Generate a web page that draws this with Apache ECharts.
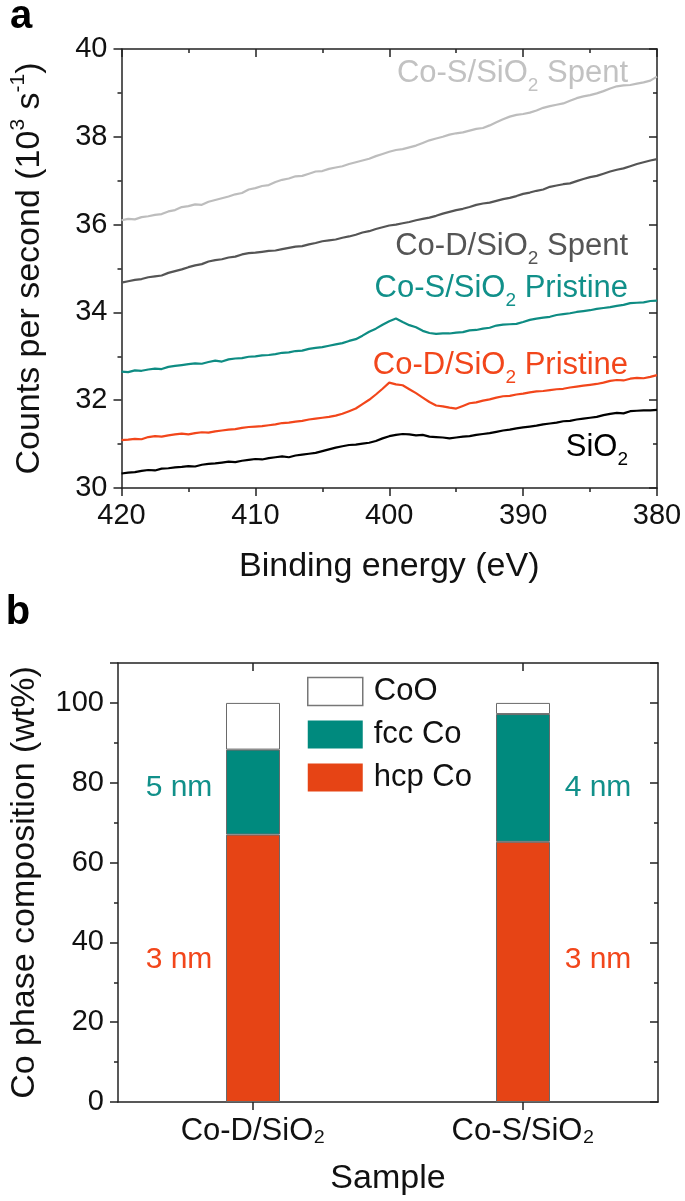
<!DOCTYPE html>
<html><head><meta charset="utf-8">
<script src="https://cdn.jsdelivr.net/npm/echarts@6/dist/echarts.min.js"></script>
<style>html,body{margin:0;padding:0;background:#fff}#c{width:685px;height:1201px}</style>
</head><body><div id="c"></div>
<script>
// ---------- Panel a data (binding energy in eV, counts in 10^3 s^-1) ----------
const energy = [
 420,419.5,419,418.5,418,417.5,417,416.5,416,415.5,
 415,414.5,414,413.5,413,412.5,412,411.5,411,410.5,
 410,409.5,409,408.5,408,407.5,407,406.5,406,405.5,
 405,404.5,404,403.5,403,402.5,402,401.5,401,400.5,
 400,399.5,399,398.5,398,397.5,397,396.5,396,395.5,
 395,394.5,394,393.5,393,392.5,392,391.5,391,390.5,
 390,389.5,389,388.5,388,387.5,387,386.5,386,385.5,
 385,384.5,384,383.5,383,382.5,382,381.5,381,380.5,
 380];
const coSSpent = [
 36.10,36.13,36.12,36.17,36.19,36.22,36.24,36.30,36.33,36.40,
 36.42,36.46,36.45,36.52,36.56,36.60,36.64,36.69,36.72,36.80,
 36.83,36.88,36.90,36.97,37.02,37.05,37.10,37.11,37.16,37.21,
 37.22,37.27,37.30,37.33,37.38,37.42,37.46,37.50,37.56,37.61,
 37.66,37.70,37.72,37.76,37.80,37.86,37.92,37.96,38.00,38.05,
 38.08,38.10,38.14,38.18,38.20,38.26,38.33,38.40,38.46,38.50,
 38.52,38.55,38.60,38.66,38.70,38.73,38.76,38.82,38.88,38.92,
 38.95,38.99,39.04,39.10,39.15,39.17,39.18,39.21,39.24,39.28,
 39.37];
const coDSpent = [
 34.68,34.71,34.74,34.76,34.80,34.82,34.84,34.90,34.94,34.98,
 35.03,35.07,35.10,35.16,35.19,35.21,35.25,35.27,35.32,35.35,
 35.36,35.38,35.40,35.41,35.44,35.47,35.50,35.51,35.55,35.58,
 35.62,35.64,35.66,35.70,35.73,35.77,35.82,35.85,35.90,35.94,
 35.98,36.00,36.03,36.06,36.10,36.13,36.16,36.20,36.25,36.29,
 36.33,36.36,36.40,36.45,36.48,36.50,36.54,36.58,36.61,36.65,
 36.70,36.73,36.77,36.80,36.86,36.89,36.92,36.94,36.99,37.04,
 37.08,37.11,37.16,37.21,37.25,37.28,37.33,37.38,37.42,37.46,
 37.49];
const coSPristine = [
 32.65,32.64,32.68,32.67,32.70,32.72,32.71,32.76,32.78,32.80,
 32.82,32.84,32.83,32.87,32.90,32.88,32.93,32.95,32.96,32.99,
 33.00,33.02,33.03,33.05,33.08,33.09,33.12,33.13,33.17,33.19,
 33.21,33.24,33.27,33.30,33.35,33.39,33.47,33.56,33.63,33.72,
 33.80,33.86,33.78,33.71,33.66,33.58,33.53,33.51,33.52,33.52,
 33.54,33.55,33.59,33.60,33.63,33.65,33.70,33.72,33.73,33.74,
 33.78,33.83,33.86,33.88,33.90,33.94,33.96,33.98,34.01,34.03,
 34.05,34.08,34.10,34.12,34.15,34.17,34.21,34.22,34.23,34.26,
 34.27];
const coDPristine = [
 31.09,31.10,31.12,31.11,31.16,31.18,31.17,31.20,31.22,31.24,
 31.22,31.25,31.27,31.26,31.29,31.31,31.33,31.34,31.37,31.39,
 31.40,31.41,31.43,31.45,31.48,31.49,31.51,31.53,31.56,31.58,
 31.60,31.62,31.65,31.69,31.75,31.81,31.91,32.01,32.13,32.26,
 32.40,32.36,32.34,32.25,32.16,32.06,31.96,31.88,31.86,31.83,
 31.81,31.87,31.93,31.95,31.99,32.02,32.06,32.09,32.10,32.13,
 32.15,32.18,32.20,32.21,32.23,32.25,32.26,32.29,32.31,32.33,
 32.35,32.37,32.40,32.44,32.46,32.45,32.49,32.51,32.50,32.53,
 32.57];
const sio2 = [
 30.33,30.35,30.36,30.39,30.41,30.40,30.44,30.45,30.47,30.48,
 30.50,30.49,30.53,30.55,30.56,30.58,30.60,30.59,30.62,30.64,
 30.66,30.65,30.68,30.70,30.72,30.70,30.74,30.76,30.78,30.80,
 30.84,30.88,30.92,30.95,30.98,30.99,31.01,31.03,31.07,31.13,
 31.18,31.21,31.23,31.22,31.20,31.21,31.17,31.16,31.15,31.13,
 31.15,31.17,31.18,31.21,31.23,31.25,31.28,31.31,31.33,31.36,
 31.38,31.40,31.42,31.45,31.47,31.49,31.52,31.53,31.56,31.58,
 31.60,31.62,31.66,31.69,31.71,31.70,31.75,31.76,31.77,31.77,
 31.78];

// ---------- Panel b data (wt%) ----------
const samples = ['Co-D/SiO₂', 'Co-S/SiO₂'];
const hcpCo = [67.0, 65.2];
const fccCo = [21.3, 32.0];
const coO = [11.7, 2.8];

const F = '"Liberation Sans", Arial, Helvetica, sans-serif';
const AX = '#222';
const C_GREY_L = '#bdbdbd', C_GREY_D = '#555555', C_TEAL = '#0e8c83', C_RED = '#f2461b', C_BLACK = '#000000';
const BAR_TEAL = '#008a7e', BAR_RED = '#e64415';

const chart = echarts.init(document.getElementById('c'), null, {renderer: 'canvas'});
const pairs = arr => energy.map((e, i) => [e, arr[i]]);

function axisBase(extra) {
  return Object.assign({
    axisLine: {show: true, onZero: false, lineStyle: {color: AX, width: 1.5}},
    splitLine: {show: false},
  }, extra);
}
const lab = {fontSize: 29, color: '#111', fontFamily: F};

function curveLabel(parts, x, y, color) {
  const text = parts.map(p => (p[1] ? '{s|' : '{m|') + p[0] + '}').join('');
  return {
    type: 'text', x: x, y: y, z: 100,
    style: {
      text: text, align: 'right', verticalAlign: 'middle', fill: color,
      rich: {
        m: {fontSize: 31, lineHeight: 31, fontFamily: F, fill: color},
        s: {fontSize: 19, lineHeight: 19, fontFamily: F, fill: color, padding: [26, 0, 0, 0]}
      }
    }
  };
}
function plainText(t, x, y, color, size, weight, align) {
  return {type: 'text', x: x, y: y, z: 100,
    style: {text: t, fill: color, font: (weight || 'normal') + ' ' + size + 'px ' + F,
      align: align || 'center', verticalAlign: 'middle'}};
}

const option = {
  backgroundColor: '#fff',
  animation: false,
  grid: [
    {left: 118, top: 49, width: 539, height: 439},
    {left: 118, top: 663, width: 540, height: 439}
  ],
  xAxis: [
    axisBase({gridIndex: 0, type: 'value', min: 380, max: 420, interval: 10, inverse: true, position: 'bottom',
      axisTick: {show: true, inside: false, length: 8, lineStyle: {color: AX, width: 1.5}},
      minorTick: {show: true, splitNumber: 2, length: 4, lineStyle: {color: AX, width: 1.5}},
      axisLabel: Object.assign({margin: 13}, lab),
      name: 'Binding energy (eV)', nameLocation: 'middle', nameGap: 62,
      nameTextStyle: {fontSize: 34, color: '#111', fontFamily: F}}),
    axisBase({gridIndex: 0, type: 'value', min: 380, max: 420, interval: 10, inverse: true, position: 'top',
      axisTick: {show: true, inside: true, length: 8, lineStyle: {color: AX, width: 1.5}},
      minorTick: {show: true, splitNumber: 2, length: 4, lineStyle: {color: AX, width: 1.5}},
      axisLabel: {show: false}}),
    axisBase({gridIndex: 1, type: 'category', data: samples, position: 'bottom',
      axisTick: {show: true, inside: false, alignWithLabel: true, length: 8, lineStyle: {color: AX, width: 1.5}},
      axisLabel: Object.assign({margin: 14}, lab, {fontSize: 31}),
      name: 'Sample', nameLocation: 'middle', nameGap: 60,
      nameTextStyle: {fontSize: 34, color: '#111', fontFamily: F}}),
    axisBase({gridIndex: 1, type: 'category', data: samples, position: 'top',
      axisTick: {show: true, inside: true, alignWithLabel: true, length: 8, lineStyle: {color: AX, width: 1.5}},
      axisLabel: {show: false}})
  ],
  yAxis: [
    axisBase({gridIndex: 0, type: 'value', min: 30, max: 40, interval: 2, position: 'left',
      axisTick: {show: true, inside: false, length: 8, lineStyle: {color: AX, width: 1.5}},
      minorTick: {show: true, splitNumber: 2, length: 4, lineStyle: {color: AX, width: 1.5}},
      axisLabel: Object.assign({margin: 14}, lab),
      name: '{n|Counts per second (10}{p|3}{n| s}{p|-1}{n|)}', nameLocation: 'middle', nameGap: 75,
      nameTextStyle: {fontSize: 34, color: '#111', fontFamily: F,
        rich: {n: {fontSize: 34, lineHeight: 34, fontFamily: F, color: '#111'},
               p: {fontSize: 21, lineHeight: 21, fontFamily: F, color: '#111', padding: [0, 0, 22, 0]}}}}),
    axisBase({gridIndex: 0, type: 'value', min: 30, max: 40, interval: 2, position: 'right',
      axisTick: {show: true, inside: true, length: 8, lineStyle: {color: AX, width: 1.5}},
      minorTick: {show: true, splitNumber: 2, length: 4, lineStyle: {color: AX, width: 1.5}},
      axisLabel: {show: false}}),
    axisBase({gridIndex: 1, type: 'value', min: 0, max: 110, interval: 20, position: 'left',
      axisTick: {show: true, inside: false, length: 8, lineStyle: {color: AX, width: 1.5}},
      minorTick: {show: true, splitNumber: 2, length: 4, lineStyle: {color: AX, width: 1.5}},
      axisLabel: Object.assign({margin: 14, showMaxLabel: false}, lab),
      name: 'Co phase composition (wt%)', nameLocation: 'middle', nameGap: 76,
      nameTextStyle: {fontSize: 34, color: '#111', fontFamily: F}}),
    axisBase({gridIndex: 1, type: 'value', min: 0, max: 110, interval: 20, position: 'right',
      axisTick: {show: true, inside: true, length: 8, lineStyle: {color: AX, width: 1.5}},
      minorTick: {show: true, splitNumber: 2, length: 4, lineStyle: {color: AX, width: 1.5}},
      axisLabel: {show: false}})
  ],
  legend: {
    data: [
      {name: 'CoO', itemStyle: {color: '#ffffff', borderColor: '#777', borderWidth: 1.5}},
      {name: 'fcc Co', itemStyle: {borderWidth: 0}},
      {name: 'hcp Co', itemStyle: {borderWidth: 0}}
    ],
    orient: 'vertical', left: 307, top: 676, padding: 0, itemWidth: 55, itemHeight: 28, itemGap: 12,
    icon: 'rect', selectedMode: false,
    textStyle: {fontSize: 31, fontFamily: F, color: '#111', padding: [0, 0, 0, 6]}
  },
  series: [
    {name: 'Co-S/SiO2 Spent', type: 'line', xAxisIndex: 0, yAxisIndex: 0, data: pairs(coSSpent),
      showSymbol: false, lineStyle: {color: C_GREY_L, width: 2.2}, itemStyle: {color: C_GREY_L}},
    {name: 'Co-D/SiO2 Spent', type: 'line', xAxisIndex: 0, yAxisIndex: 0, data: pairs(coDSpent),
      showSymbol: false, lineStyle: {color: C_GREY_D, width: 2.2}, itemStyle: {color: C_GREY_D}},
    {name: 'Co-S/SiO2 Pristine', type: 'line', xAxisIndex: 0, yAxisIndex: 0, data: pairs(coSPristine),
      showSymbol: false, lineStyle: {color: C_TEAL, width: 2.2}, itemStyle: {color: C_TEAL}},
    {name: 'Co-D/SiO2 Pristine', type: 'line', xAxisIndex: 0, yAxisIndex: 0, data: pairs(coDPristine),
      showSymbol: false, lineStyle: {color: C_RED, width: 2.2}, itemStyle: {color: C_RED}},
    {name: 'SiO2', type: 'line', xAxisIndex: 0, yAxisIndex: 0, data: pairs(sio2),
      showSymbol: false, lineStyle: {color: C_BLACK, width: 2.2}, itemStyle: {color: C_BLACK}},
    {name: 'hcp Co', type: 'bar', xAxisIndex: 2, yAxisIndex: 2, stack: 'phase', data: hcpCo, barWidth: 54,
      itemStyle: {color: BAR_RED, borderColor: '#6a6a6a', borderWidth: 1}},
    {name: 'fcc Co', type: 'bar', xAxisIndex: 2, yAxisIndex: 2, stack: 'phase', data: fccCo, barWidth: 54,
      itemStyle: {color: BAR_TEAL, borderColor: '#6a6a6a', borderWidth: 1}},
    {name: 'CoO', type: 'bar', xAxisIndex: 2, yAxisIndex: 2, stack: 'phase', data: coO, barWidth: 54,
      itemStyle: {color: '#ffffff', borderColor: '#6a6a6a', borderWidth: 1}}
  ],
  graphic: [
    plainText('a', 21, 17, '#000', 40, 'bold'),
    plainText('b', 18, 613, '#000', 40, 'bold'),
    curveLabel([['Co-S/SiO', 0], ['2', 1], [' Spent', 0]], 628, 73, '#c2c2c2'),
    curveLabel([['Co-D/SiO', 0], ['2', 1], [' Spent', 0]], 628, 246, '#555555'),
    curveLabel([['Co-S/SiO', 0], ['2', 1], [' Pristine', 0]], 628, 288, '#11908a'),
    curveLabel([['Co-D/SiO', 0], ['2', 1], [' Pristine', 0]], 628, 365, '#f2461b'),
    curveLabel([['SiO', 0], ['2', 1]], 628, 447, '#000000'),
    plainText('5 nm', 179, 788, '#11908a', 30),
    plainText('4 nm', 598, 788, '#11908a', 30),
    plainText('3 nm', 179, 960, '#f2461b', 30),
    plainText('3 nm', 598, 960, '#f2461b', 30)
  ]
};
chart.setOption(option);
</script>
</body></html>
